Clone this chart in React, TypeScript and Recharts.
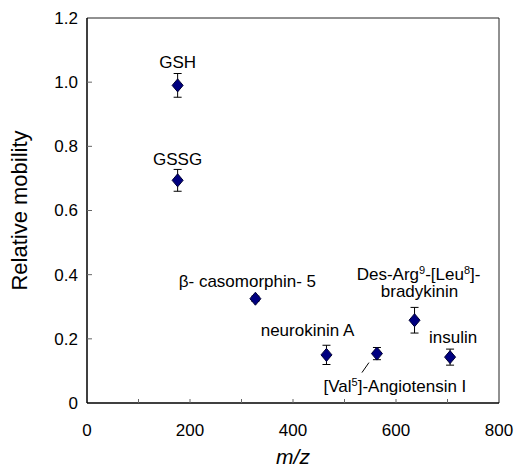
import React from "react";
import {
  ScatterChart,
  Scatter,
  XAxis,
  YAxis,
  ZAxis,
  ErrorBar,
  ReferenceLine,
} from "recharts";

// values
const names = [
  "GSH",
  "GSSG",
  "beta-casomorphin-5",
  "neurokinin A",
  "[Val5]-Angiotensin I",
  "Des-Arg9-[Leu8]-bradykinin",
  "insulin",
];
const mz = [176, 176, 327, 465, 563, 636, 705];
const mobility = [0.99, 0.694, 0.325, 0.15, 0.154, 0.258, 0.143];
const errors = [0.037, 0.034, 0.008, 0.03, 0.019, 0.04, 0.025];

const xTicks = [0, 100, 200, 300, 400, 500, 600, 700, 800];
const yTicks = [0, 0.2, 0.4, 0.6, 0.8, 1.0, 1.2];

const data = names.map((name, i) => ({
  name,
  mz: mz[i],
  mobility: mobility[i],
  err: errors[i],
}));

const FONT = "'Liberation Sans', Arial, sans-serif";

// annotation placement, relative to each marker (px)
const labelLayout: Record<string, { dx: number; dy: number }> = {
  GSH: { dx: 0, dy: -17 },
  GSSG: { dx: 0, dy: -15 },
  "beta-casomorphin-5": { dx: -8, dy: -12 },
  "neurokinin A": { dx: -19, dy: -19 },
  "[Val5]-Angiotensin I": { dx: 18, dy: 38 },
  "Des-Arg9-[Leu8]-bradykinin": { dx: 4, dy: -40 },
  insulin: { dx: 3, dy: -14 },
};

const Sup = ({ children }: { children: React.ReactNode }) => (
  <tspan fontSize={11} dy={-6}>
    {children}
  </tspan>
);

const labelText = (name: string, x: number, y: number) => {
  const common = { textAnchor: "middle" as const, fontSize: 17, fontFamily: FONT, fill: "#000" };
  switch (name) {
    case "beta-casomorphin-5":
      return (
        <text x={x} y={y} {...common}>
          β- casomorphin- 5
        </text>
      );
    case "[Val5]-Angiotensin I":
      return (
        <text x={x} y={y} {...common}>
          [Val<Sup>5</Sup>
          <tspan dy={6}>]-Angiotensin I</tspan>
        </text>
      );
    case "Des-Arg9-[Leu8]-bradykinin":
      return (
        <g>
          <text x={x} y={y} {...common}>
            Des-Arg<Sup>9</Sup>
            <tspan dy={6}>-[Leu</tspan>
            <Sup>8</Sup>
            <tspan dy={6}>]-</tspan>
          </text>
          <text x={x + 1} y={y + 17} {...common}>
            bradykinin
          </text>
        </g>
      );
    default:
      return (
        <text x={x} y={y} {...common}>
          {name}
        </text>
      );
  }
};

const DiamondPoint = (props: any) => {
  const { cx, cy, payload } = props;
  const w = 5.5;
  const h = 6.5;
  const lay = labelLayout[payload.name];
  return (
    <g>
      <polygon
        points={`${cx},${cy - h} ${cx + w},${cy} ${cx},${cy + h} ${cx - w},${cy}`}
        fill="#000080"
        stroke="#000033"
        strokeWidth={1}
      />
      {payload.name === "[Val5]-Angiotensin I" && (
        <line x1={cx - 8} y1={cy + 9} x2={cx - 15} y2={cy + 19} stroke="#000" strokeWidth={1} />
      )}
      {lay && labelText(payload.name, cx + lay.dx, cy + lay.dy)}
    </g>
  );
};

const XTick = (props: any) => {
  const { x, y, payload } = props;
  const v = payload.value;
  return (
    <g>
      {v > 0 && v < 800 && <line x1={x} y1={y} x2={x} y2={y - 4} stroke="#666" strokeWidth={1} />}
      {v % 200 === 0 && (
        <text x={x} y={y + 33} textAnchor="middle" fontSize={17} fontFamily={FONT} fill="#000">
          {v}
        </text>
      )}
    </g>
  );
};

const YTick = (props: any) => {
  const { x, y, payload } = props;
  const v = payload.value;
  return (
    <g>
      {v > 0 && v < 1.2 && <line x1={x} y1={y} x2={x + 5} y2={y} stroke="#666" strokeWidth={1} />}
      <text x={x - 9} y={y} dy="0.35em" textAnchor="end" fontSize={17} fontFamily={FONT} fill="#000">
        {v === 0 ? "0" : v.toFixed(1)}
      </text>
    </g>
  );
};

const YTitle = (props: any) => {
  const vb = props.viewBox;
  const x = vb.x + 27;
  const y = vb.y + vb.height / 2;
  return (
    <text
      transform={`translate(${x},${y}) rotate(-90)`}
      textAnchor="middle"
      fontSize={22}
      fontFamily={FONT}
      fill="#000"
    >
      Relative mobility
    </text>
  );
};

const XTitle = (props: any) => {
  const vb = props.viewBox;
  return (
    <text
      x={vb.x + vb.width / 2}
      y={vb.y + 61}
      textAnchor="middle"
      fontSize={21}
      fontFamily={FONT}
      fontStyle="italic"
      fill="#000"
    >
      m/z
    </text>
  );
};

export default function App() {
  return (
    <div style={{ position: "absolute", left: 0, top: 0, background: "#fff" }}>
      <ScatterChart width={516} height={472} margin={{ top: 18, right: 17, bottom: 0, left: 0 }}>
        <XAxis
          type="number"
          dataKey="mz"
          domain={[0, 800]}
          ticks={xTicks}
          interval={0}
          height={69}
          tickSize={0}
          tickMargin={0}
          tickLine={false}
          axisLine={{ stroke: "#000", strokeWidth: 1.5 }}
          tick={<XTick />}
          label={{ content: <XTitle /> }}
        />
        <YAxis
          type="number"
          dataKey="mobility"
          domain={[0, 1.2]}
          ticks={yTicks}
          interval={0}
          width={87}
          tickSize={0}
          tickMargin={0}
          tickLine={false}
          axisLine={{ stroke: "#000", strokeWidth: 1.5 }}
          tick={<YTick />}
          label={{ content: <YTitle /> }}
        />
        <ZAxis range={[60, 60]} />
        <ReferenceLine y={1.2} stroke="#222" strokeWidth={1} />
        <ReferenceLine x={800} stroke="#222" strokeWidth={1} />
        <Scatter data={data} shape={<DiamondPoint />} isAnimationActive={false}>
          <ErrorBar dataKey="err" direction="y" width={4} stroke="#000" strokeWidth={1} />
        </Scatter>
      </ScatterChart>
    </div>
  );
}
